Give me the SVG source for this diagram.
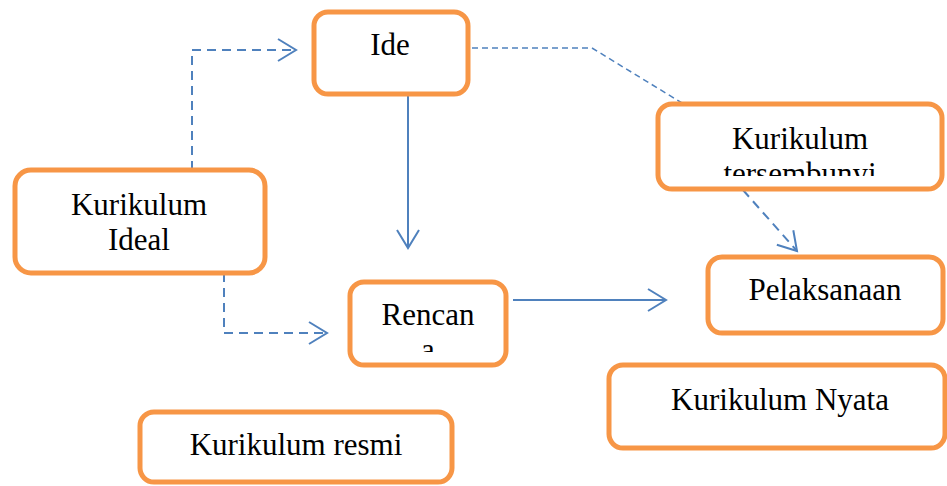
<svg xmlns="http://www.w3.org/2000/svg" width="947" height="486" viewBox="0 0 947 486">
<style>
.box{fill:#fff;stroke:#F79646;stroke-width:5}
.t{font-size:31px;fill:#000;text-anchor:middle}
.c{fill:none;stroke:#4F81BD;stroke-width:2}
.d{stroke-dasharray:9 6}
.d2{stroke-dasharray:6 4;stroke-width:1.5}
</style>
<defs>
<marker id="arr" markerUnits="userSpaceOnUse" markerWidth="24" markerHeight="28" viewBox="-21 -14 24 28" refX="0" refY="0" orient="auto">
<path d="M-18,-11 L0,0 L-18,11" fill="none" stroke="#4F81BD" stroke-width="2" stroke-dasharray="none"/>
</marker>
<clipPath id="clipT"><rect x="661" y="107" width="278" height="69"/></clipPath>
<clipPath id="clipR"><rect x="353" y="285" width="150" height="67"/></clipPath>
</defs>
<g id="connectors">
<path class="c d2" d="M472,48 H592 L682,103"/>
<path class="c d" d="M162,170 H192 V50 H296" marker-end="url(#arr)"/>
<path class="c d" d="M118,274 H224 V333 H327" marker-end="url(#arr)"/>
<path class="c" d="M408,78 V248" marker-end="url(#arr)"/>
<path class="c" d="M513,300 H666" marker-end="url(#arr)"/>
<path class="c d" d="M743,190 L797,251" marker-end="url(#arr)"/>
</g>
<g font-family="'Liberation Serif', 'DejaVu Serif', serif">
<g id="ide"><rect class="box" x="314" y="12" width="154" height="82" rx="14"/><text class="t" x="390" y="55">Ide</text></g>
<g id="tersembunyi"><rect class="box" x="658" y="104" width="284" height="85" rx="14"/><g clip-path="url(#clipT)"><text class="t" x="800" y="149">Kurikulum</text><text class="t" x="800" y="184">tersembunyi</text></g></g>
<g id="ideal"><rect class="box" x="15" y="170" width="250" height="103" rx="16"/><text class="t" x="139" y="215">Kurikulum</text><text class="t" x="139" y="250">Ideal</text></g>
<g id="rencana"><rect class="box" x="350" y="282" width="156" height="83" rx="14"/><g clip-path="url(#clipR)"><text class="t" x="428" y="325">Rencan</text><text class="t" x="428" y="360">a</text></g></g>
<g id="pelaksanaan"><rect class="box" x="708" y="257" width="235" height="76" rx="14"/><text class="t" x="825" y="300">Pelaksanaan</text></g>
<g id="nyata"><rect class="box" x="609" y="365" width="336" height="83" rx="14"/><text class="t" x="780" y="410">Kurikulum Nyata</text></g>
<g id="resmi"><rect class="box" x="140" y="412" width="312" height="70" rx="14"/><text class="t" x="296" y="455">Kurikulum resmi</text></g>
</g>
</svg>
